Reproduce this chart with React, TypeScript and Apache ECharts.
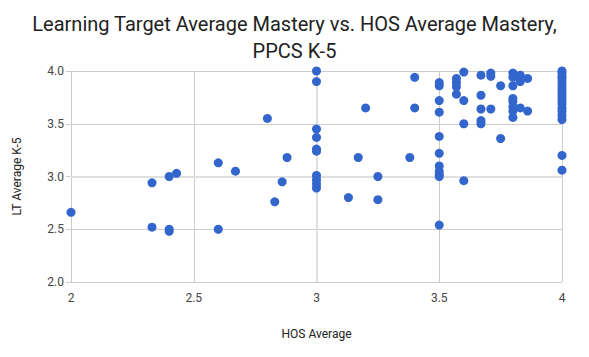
import React, { useEffect, useRef } from "react";
import * as echarts from "echarts";

const titleLines = ["Learning Target Average Mastery vs. HOS Average Mastery,", "PPCS K-5"];
const xAxisName = "HOS Average";
const yAxisName = "LT Average K-5";

const hosAverage: number[] = [
  2.0, 2.33, 2.33, 2.4, 2.43, 2.4, 2.4, 2.6, 2.67, 2.6,
  3.0, 3.0, 3.4, 3.2, 3.4, 2.8, 3.0, 3.0, 3.0, 3.0,
  2.88, 3.17, 3.38, 3.0, 3.0, 3.0, 3.0, 2.86, 3.25, 2.83,
  3.13, 3.25,
  3.5, 3.5, 3.5, 3.5, 3.5, 3.5, 3.5, 3.5, 3.5, 3.5, 3.5,
  3.57, 3.57, 3.57, 3.57,
  3.6, 3.6, 3.6, 3.6,
  3.67, 3.67, 3.67, 3.67, 3.67,
  3.71, 3.71, 3.71,
  3.75, 3.75,
  3.8, 3.8, 3.8, 3.8, 3.8, 3.8, 3.8, 3.8,
  3.83, 3.83, 3.83,
  3.86, 3.86,
  4.0, 4.0, 4.0, 4.0, 4.0, 4.0, 4.0, 4.0, 4.0, 4.0, 4.0, 4.0, 4.0, 4.0, 4.0, 4.0, 4.0, 4.0
];
const ltAverage: number[] = [
  2.66, 2.94, 2.52, 3.0, 3.03, 2.5, 2.48, 3.13, 3.05, 2.5,
  4.0, 3.9, 3.94, 3.65, 3.65, 3.55, 3.45, 3.37, 3.26, 3.24,
  3.18, 3.18, 3.18, 3.01, 2.97, 2.93, 2.89, 2.95, 3.0, 2.76,
  2.8, 2.78,
  3.89, 3.86, 3.72, 3.61, 3.38, 3.22, 3.1, 3.05, 3.02, 3.0, 2.54,
  3.93, 3.89, 3.85, 3.78,
  3.99, 3.72, 3.5, 2.96,
  3.96, 3.77, 3.64, 3.53, 3.5,
  3.98, 3.95, 3.64,
  3.86, 3.36,
  3.98, 3.94, 3.86, 3.74, 3.71, 3.66, 3.62, 3.56,
  3.96, 3.9, 3.65,
  3.93, 3.62,
  4.0, 3.98, 3.95, 3.93, 3.9, 3.87, 3.84, 3.81, 3.78, 3.75, 3.72, 3.69, 3.65, 3.62, 3.58, 3.54, 3.2, 3.06
];

export default function App() {
  const ref = useRef<HTMLDivElement>(null);
  useEffect(() => {
    if (!ref.current) return;
    const chart = echarts.init(ref.current, null, { renderer: "svg" });
    const data = hosAverage.map((x, i) => [x, ltAverage[i]]);
    chart.setOption({
      animation: false,
      backgroundColor: "#ffffff",
      title: {
        text: titleLines.join("\n"),
        left: "center",
        top: 5,
        textStyle: {
          fontFamily: "Roboto",
          fontSize: 20,
          fontWeight: "normal",
          color: "#222222",
          lineHeight: 27,
        },
      },
      grid: { left: 71, right: 27, top: 71, bottom: 75, containLabel: false },
      xAxis: {
        type: "value",
        min: 2,
        max: 4,
        interval: 0.5,
        name: xAxisName,
        nameLocation: "middle",
        nameGap: 46,
        nameTextStyle: { fontFamily: "Roboto", fontSize: 12, color: "#222222" },
        axisLine: { show: false },
        axisTick: { show: false },
        axisLabel: {
          fontFamily: "Roboto",
          fontSize: 12,
          color: "#444444",
          margin: 10,
          formatter: (v: number) => String(v),
        },
        splitLine: { show: true, lineStyle: { color: "#cccccc", width: 1 } },
      },
      yAxis: {
        type: "value",
        min: 2,
        max: 4,
        interval: 0.5,
        name: yAxisName,
        nameLocation: "middle",
        nameGap: 48,
        nameRotate: 90,
        nameTextStyle: { fontFamily: "Roboto", fontSize: 12, color: "#222222" },
        axisLine: { show: false },
        axisTick: { show: true, length: 5, lineStyle: { color: "#cccccc" } },
        axisLabel: {
          fontFamily: "Roboto",
          fontSize: 12,
          color: "#444444",
          margin: 7,
          formatter: (v: number) => v.toFixed(1),
        },
        splitLine: { show: true, lineStyle: { color: "#cccccc", width: 1 } },
      },
      series: [
        {
          type: "scatter",
          data,
          symbolSize: 9,
          itemStyle: { color: "#3366cc", opacity: 1 },
          clip: false,
          markLine: {
            silent: true,
            symbol: "none",
            label: { show: false },
            lineStyle: { color: "#e0e0e0", width: 2, type: "solid" },
            data: [{ xAxis: 3 }, { yAxis: 3 }],
            z: 1,
          },
        },
      ],
    });
    return () => chart.dispose();
  }, []);
  return <div ref={ref} style={{ width: 589, height: 357, position: "absolute", left: 0, top: 0 }} />;
}
